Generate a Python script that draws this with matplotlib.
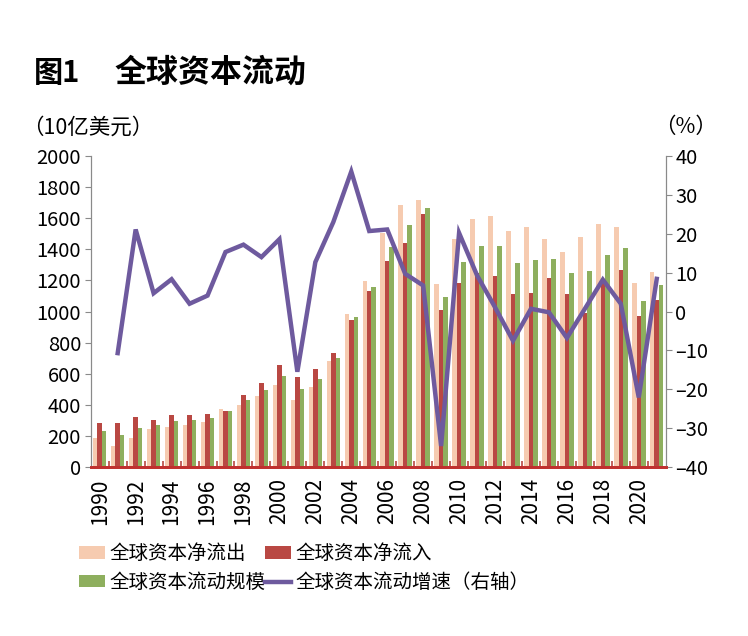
import matplotlib
matplotlib.use("Agg")
import matplotlib.pyplot as plt
import numpy as np

plt.rcParams['font.family'] = ['Noto Sans CJK SC', 'DejaVu Sans']

# data (10亿美元 / %)
years = list(range(1990, 2022))
outflow = [184, 135, 189, 242, 255, 270, 287, 371, 399, 454, 527, 431, 517, 682, 982, 1194,
           1503, 1683, 1717, 1177, 1464, 1595, 1614, 1520, 1546, 1464, 1383, 1479, 1561, 1542, 1181, 1256]
inflow = [285, 285, 322, 300, 332, 332, 341, 362, 463, 538, 656, 581, 630, 731, 943, 1132,
          1327, 1441, 1627, 1010, 1181, 1248, 1230, 1115, 1119, 1215, 1115, 990, 1203, 1267, 973, 1074]
scale = [232, 206, 253, 268, 296, 302, 317, 362, 431, 493, 585, 500, 568, 703, 963, 1160,
         1413, 1556, 1664, 1093, 1318, 1421, 1421, 1310, 1331, 1340, 1250, 1262, 1363, 1406, 1070, 1168]
growth = [np.nan, -10.7, 21.1, 4.7, 8.3, 2.0, 4.1, 15.3, 17.2, 14.0, 18.6, -15.5, 12.7, 23.0, 36.0, 20.7,
          21.1, 9.7, 6.7, -34.6, 20.2, 9.3, 1.1, -7.5, 0.7, -0.2, -6.8, 0.7, 8.2, 2.0, -22.1, 8.4]
labels = ["全球资本净流出", "全球资本净流入", "全球资本流动规模", "全球资本流动增速（右轴）"]

c_out = "#F6CBB0"
c_in = "#B94843"
c_sc = "#8EAF5E"
c_gr = "#6E5A9E"
grey = "#8a8a8a"

fig = plt.figure(figsize=(7.48, 6.36), dpi=100)
ax = fig.add_axes([0.1213, 0.2657, 0.7687, 0.489])
ax2 = ax.twinx()

x = np.arange(len(years))
w = 0.25
b1 = ax.bar(x - w, outflow, w, color=c_out, zorder=2)
b2 = ax.bar(x, inflow, w, color=c_in, zorder=2)
b3 = ax.bar(x + w, scale, w, color=c_sc, zorder=2)
l1, = ax2.plot(x, growth, color=c_gr, lw=3.2, solid_joinstyle='miter', zorder=3)

ax.set_xlim(-0.5, len(years) - 0.5)
ax.set_ylim(0, 2000)
ax.set_yticks(range(0, 2001, 200))
ax2.set_ylim(-40, 40)
ax2.set_yticks(range(-40, 41, 10))
ax2.set_yticklabels([str(v).replace("-", "\u2013") for v in range(-40, 41, 10)])

ax.set_xticks(x[::2])
ax.set_xticklabels([str(y) for y in years[::2]], rotation=90, fontsize=15)
ax.set_xticks(np.arange(0.5, len(years) - 1, 1), minor=True)
ax.tick_params(axis='x', which='major', length=0, pad=8)
ax.tick_params(axis='x', which='minor', direction='in', length=4, color=c_in, width=1.2)

ax.tick_params(axis='y', direction='out', length=4, color=grey, labelsize=14.5, pad=3)
ax2.tick_params(axis='y', direction='out', length=4, color=grey, labelsize=14.5, pad=3)

for a in (ax, ax2):
    a.spines['top'].set_visible(False)
    a.spines['left'].set_color(grey)
    a.spines['right'].set_color(grey)
    a.spines['bottom'].set_color("#C0302E")
    a.spines['bottom'].set_linewidth(2)
ax.spines['bottom'].set_zorder(5)

fig.text(0.045, 0.886, "图1", fontsize=21, fontweight='bold', va='center')
fig.text(0.153, 0.886, "全球资本流动", fontsize=23, fontweight='bold', va='center')
fig.text(0.030, 0.800, "（10亿美元）", fontsize=15.5, va='center', ha='left')
fig.text(0.958, 0.800, "（%）", fontsize=15.5, va='center', ha='right')

fig.legend([b1, b3, b2, l1], [labels[0], labels[2], labels[1], labels[3]],
           ncol=2, frameon=False, loc='upper left', bbox_to_anchor=(0.095, 0.158),
           fontsize=14, handlelength=1.35, handleheight=0.6, handletextpad=0.2,
           columnspacing=0.0, labelspacing=0.4, borderaxespad=0)

fig.savefig("out.png", dpi=100)
